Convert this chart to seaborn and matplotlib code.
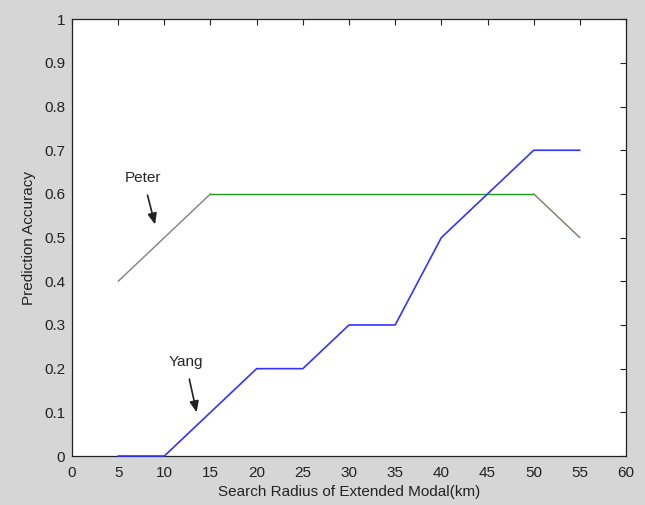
import pandas as pd
import matplotlib
matplotlib.use("Agg")
import matplotlib.pyplot as plt
import seaborn as sns

radius = [5, 10, 15, 20, 25, 30, 35, 40, 45, 50, 55]
yang = [0, 0, 0.1, 0.2, 0.2, 0.3, 0.3, 0.5, 0.6, 0.7, 0.7]
peter = [0.4, 0.5, 0.6, 0.6, 0.6, 0.6, 0.6, 0.6, 0.6, 0.6, 0.5]

df = pd.DataFrame({"radius": radius, "Yang": yang, "Peter": peter})

sns.set_style("white")
plt.rcParams['font.family'] = ['Liberation Sans', 'DejaVu Sans']

fig = plt.figure(figsize=(6.45, 5.05), dpi=100, facecolor='#d6d6d6')
ax = fig.add_axes([0.1116, 0.097, 0.859, 0.865])
ax.set_facecolor('white')

# Peter: gray ramp up, green plateau, gray drop
sns.lineplot(data=df[df.radius <= 15], x="radius", y="Peter", color='#808080', lw=1, ax=ax)
sns.lineplot(data=df[(df.radius >= 15) & (df.radius <= 50)], x="radius", y="Peter", color='#1a9a1a', lw=1, ax=ax)
sns.lineplot(data=df[df.radius >= 50], x="radius", y="Peter", color='#6f7f66', lw=1, ax=ax)
sns.lineplot(data=df, x="radius", y="Yang", color='#3333ff', lw=1.2, ax=ax)
for ln in ax.lines:
    ln.set_zorder(5)
    ln.set_clip_on(False)

ax.set_xlim(0, 60)
ax.set_ylim(0, 1)
ax.set_xticks(range(0, 61, 5))
ax.set_yticks([i / 10 for i in range(11)])
ax.set_yticklabels(['0', '0.1', '0.2', '0.3', '0.4', '0.5', '0.6', '0.7', '0.8', '0.9', '1'])
ax.tick_params(direction='in', top=True, right=True, length=4, labelsize=11, color='#222222',
               labelcolor='#222222')
ax.tick_params(axis='x', pad=7)
ax.tick_params(axis='y', pad=5)
for s in ax.spines.values():
    s.set_color('#222222')
    s.set_linewidth(0.9)

ax.set_xlabel("Search Radius of Extended Modal(km)", fontsize=11, labelpad=4, color='#222222')
ax.set_ylabel("Prediction Accuracy", fontsize=11, labelpad=6, color='#222222')

ax.annotate("Peter", xy=(9.0, 0.53), xytext=(7.7, 0.636), ha='center', va='center', fontsize=11,
            arrowprops=dict(arrowstyle='-|>,head_length=0.6,head_width=0.25', color='#222222',
                            lw=1.2, shrinkA=5, shrinkB=0))
ax.annotate("Yang", xy=(13.5, 0.1), xytext=(12.3, 0.215), ha='center', va='center', fontsize=11,
            arrowprops=dict(arrowstyle='-|>,head_length=0.6,head_width=0.25', color='#222222',
                            lw=1.2, shrinkA=5, shrinkB=0))

fig.savefig("out.png", dpi=100, facecolor=fig.get_facecolor())
